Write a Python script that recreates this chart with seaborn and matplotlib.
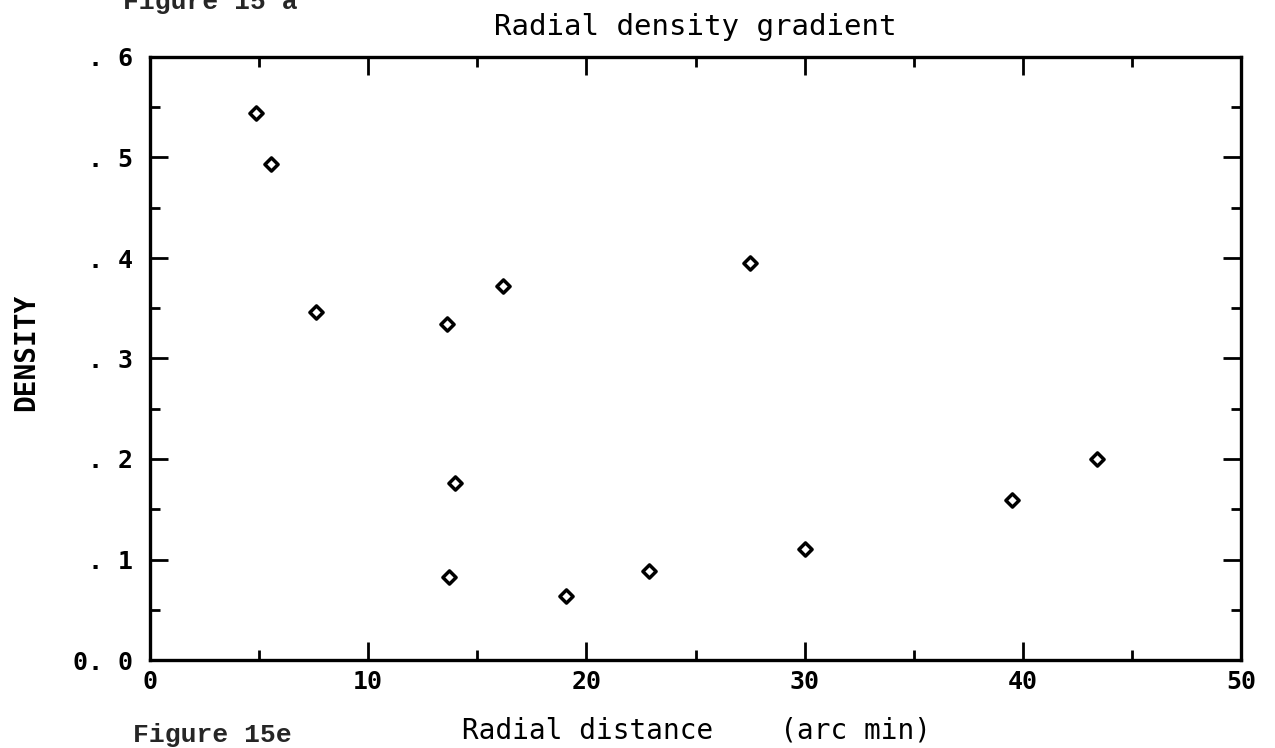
import matplotlib
matplotlib.use("Agg")
import matplotlib.pyplot as plt
import seaborn as sns
import pandas as pd
from matplotlib.ticker import MultipleLocator, FuncFormatter

radial_distance = [4.84, 5.54, 7.6, 13.6, 16.2, 27.5, 13.96, 13.7, 19.07, 22.85, 30.0, 39.5, 43.4]
density = [0.544, 0.494, 0.346, 0.334, 0.372, 0.395, 0.176, 0.0825, 0.064, 0.089, 0.110, 0.159, 0.200]

df = pd.DataFrame({"r": radial_distance, "d": density})

sns.set_style("ticks")
plt.rcParams['font.family'] = ['DejaVu Sans Mono', 'DejaVu Sans']

W, H = 1275, 748
fig = plt.figure(figsize=(W / 100, H / 100), dpi=100)
left, right, top, bottom = 150, 1241, 57, 660
ax = fig.add_axes([left / W, 1 - bottom / H, (right - left) / W, (bottom - top) / H])

sns.scatterplot(data=df, x="r", y="d", ax=ax, marker="D", s=45,
                facecolor="white", edgecolor="black", linewidth=2.5, legend=False)

ax.set_xlim(0, 50)
ax.set_ylim(0, 0.6)
ax.xaxis.set_major_locator(MultipleLocator(10))
ax.xaxis.set_minor_locator(MultipleLocator(5))
ax.yaxis.set_major_locator(MultipleLocator(0.1))
ax.yaxis.set_minor_locator(MultipleLocator(0.05))

def yfmt(v, pos):
    if abs(v) < 1e-9:
        return "0. 0"
    return ". " + str(int(round(v * 10)))
ax.yaxis.set_major_formatter(FuncFormatter(yfmt))

for s in ax.spines.values():
    s.set_linewidth(2.4)
    s.set_visible(True)
    s.set_color("black")
ax.tick_params(which="both", direction="in", top=True, right=True, width=2, color="black")
ax.tick_params(which="major", length=13, labelsize=18, labelcolor="black")
ax.tick_params(axis="x", which="major", pad=7)
ax.tick_params(axis="y", which="major", pad=12)
ax.tick_params(which="minor", length=7)
for lab in ax.get_xticklabels() + ax.get_yticklabels():
    lab.set_fontweight("bold")

ax.set_xlabel("Radial distance    (arc min)", fontsize=20, color="black", va="center")
ax.xaxis.set_label_coords((696 - left) / (right - left), (bottom - 730) / (bottom - top))
ax.set_ylabel("DENSITY", fontsize=20, fontweight="bold", color="black", va="center")
ax.yaxis.set_label_coords((26 - left) / (right - left), (bottom - 352) / (bottom - top))
ax.set_title("Radial density gradient", fontsize=21, pad=16, color="black")

fig.text(133 / W, 1 - 735 / H, "Figure 15e", fontsize=19, fontfamily="Liberation Mono",
         fontweight="bold", va="center")
fig.text(123 / W, 1 - 9 / H, "Figure 15 a", fontsize=19, fontfamily="Liberation Mono",
         fontweight="bold", va="baseline")

fig.savefig("out.png", dpi=100)
